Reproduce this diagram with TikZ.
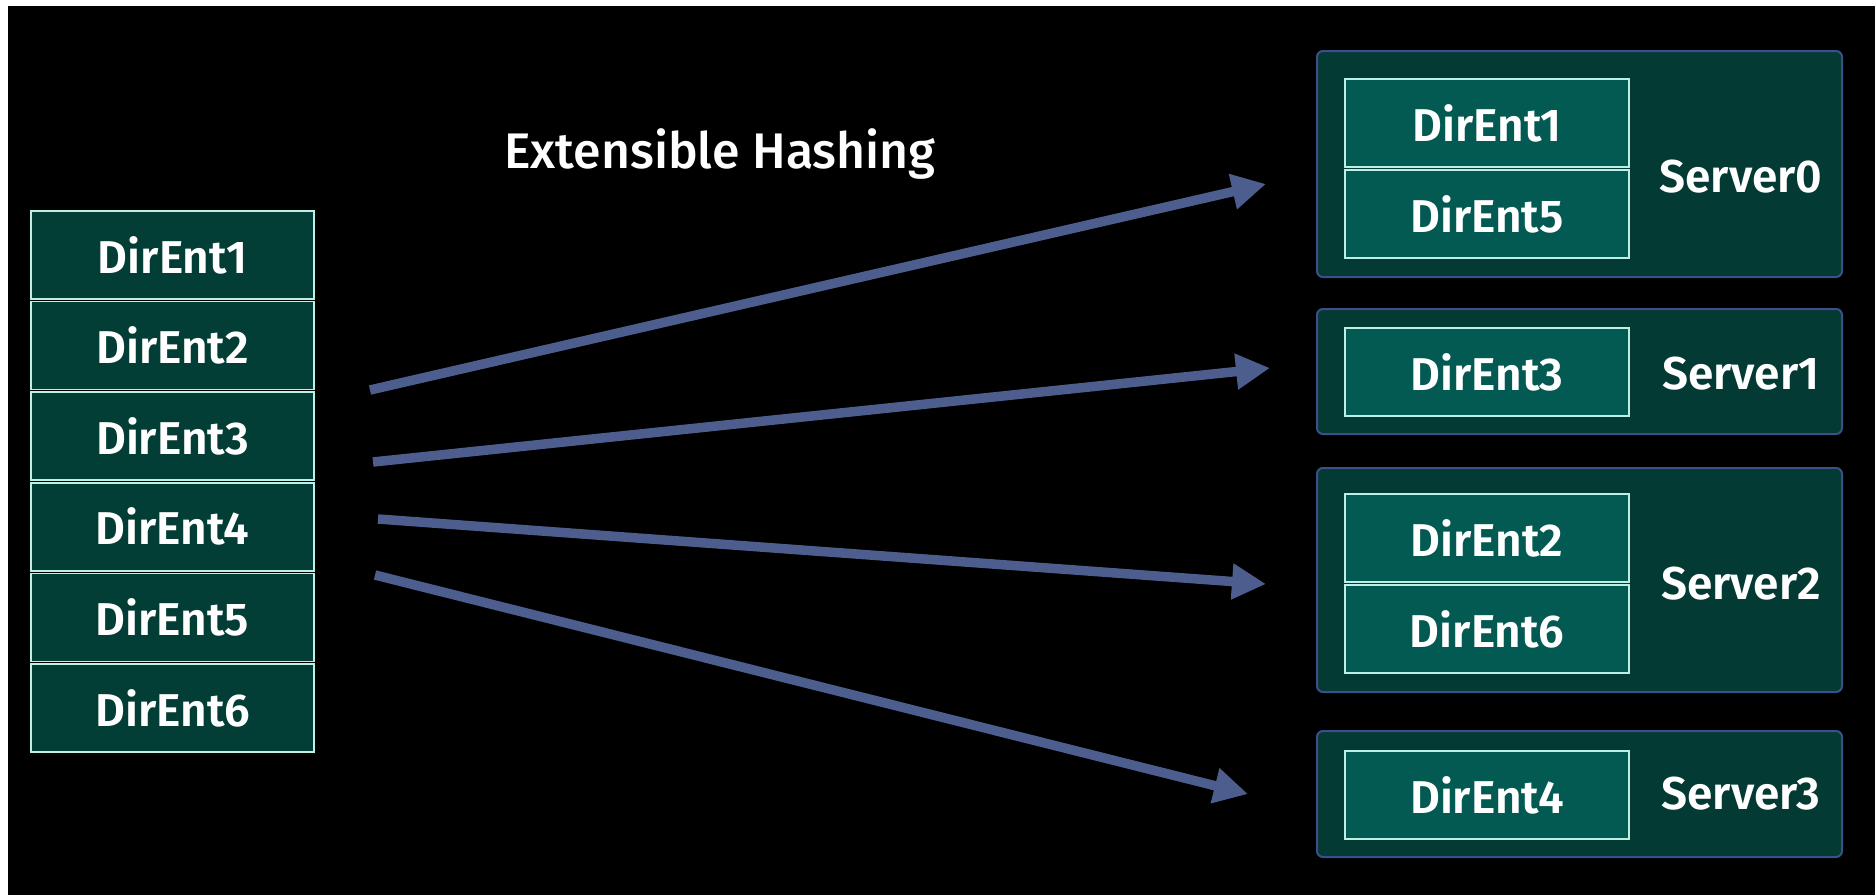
\documentclass[tikz,border=0pt]{standalone}
\usepackage{fontspec}
\setmainfont{Fira Sans}
\newfontfamily\labelfont{Fira Sans SemiBold}
\newfontfamily\titlefont{Fira Sans Medium}
\usetikzlibrary{arrows.meta}
\definecolor{entfill}{HTML}{023D36}
\definecolor{entline}{HTML}{BDEFE6}
\definecolor{srvfill}{HTML}{033A34}
\definecolor{srvline}{HTML}{3C5088}
\definecolor{innerfill}{HTML}{035A52}
\definecolor{arrowblue}{HTML}{4D5E8E}
\tikzset{
  entry/.style={draw=entline, line width=1.5pt, fill=entfill, minimum width=283pt,
    minimum height=88pt, inner sep=0pt, text=white, font=\fontsize{46}{50}\labelfont},
  inner/.style={entry, fill=innerfill, minimum width=284pt},
  server/.style={draw=srvline, line width=2pt, fill=srvfill, rounded corners=6pt},
  srvlabel/.style={text=white, font=\fontsize{46}{50}\labelfont, inner sep=0pt},
  hasharrow/.style={draw=arrowblue, line width=9.5pt, -{Triangle[length=34pt,width=34pt]}}
}
\begin{document}
\begin{tikzpicture}[x=1pt, y=-1pt]
  \useasboundingbox (0,0) rectangle (1875,895);
  \fill[white] (0,0) rectangle (1875,895);
  \fill[black] (8,6) rectangle (1875,895);

  % directory entries on the left
  \node[entry] (d1) at (172.5,255) {DirEnt1};
  \node[entry] (d2) at (172.5,345.6) {DirEnt2};
  \node[entry] (d3) at (172.5,436.2) {DirEnt3};
  \node[entry] (d4) at (172.5,526.8) {DirEnt4};
  \node[entry] (d5) at (172.5,617.4) {DirEnt5};
  \node[entry] (d6) at (172.5,708) {DirEnt6};

  % title
  \node[text=white, font=\fontsize{50}{55}\titlefont, inner sep=0pt] (title) at (720,154) {Extensible Hashing};

  % server boxes
  \draw[server] (1317,51) rectangle (1842,277);
  \draw[server] (1317,309) rectangle (1842,434);
  \draw[server] (1317,468) rectangle (1842,692);
  \draw[server] (1317,731) rectangle (1842,857);

  \node[inner] (s0a) at (1487,123) {DirEnt1};
  \node[inner] (s0b) at (1487,214) {DirEnt5};
  \node[inner] (s1a) at (1487,372) {DirEnt3};
  \node[inner] (s2a) at (1487,538) {DirEnt2};
  \node[inner] (s2b) at (1487,629) {DirEnt6};
  \node[inner] (s3a) at (1487,795) {DirEnt4};

  \node[srvlabel] (srv0) at (1741,177) {Server0};
  \node[srvlabel] (srv1) at (1741,374) {Server1};
  \node[srvlabel] (srv2) at (1741,584) {Server2};
  \node[srvlabel] (srv3) at (1741,794) {Server3};

  % hash mapping arrows
  \coordinate (a1s) at (370,390);  \coordinate (a1e) at (1266,184);
  \coordinate (a2s) at (373,462);  \coordinate (a2e) at (1270,368);
  \coordinate (a3s) at (378,519);  \coordinate (a3e) at (1266,584);
  \coordinate (a4s) at (375,575);  \coordinate (a4e) at (1248,794);
  \draw[hasharrow] (a1s) -- (a1e);
  \draw[hasharrow] (a2s) -- (a2e);
  \draw[hasharrow] (a3s) -- (a3e);
  \draw[hasharrow] (a4s) -- (a4e);
\end{tikzpicture}
\end{document}
